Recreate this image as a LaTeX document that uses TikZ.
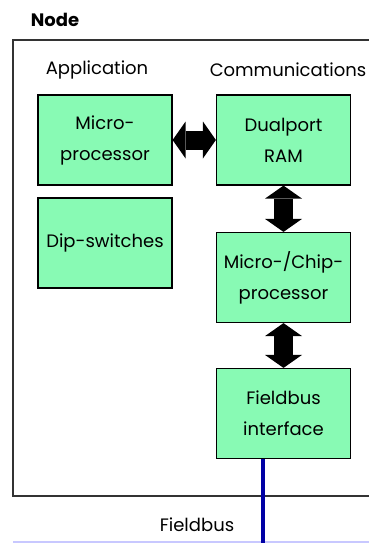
\documentclass[tikz,border=0pt]{standalone}
\usepackage{fontspec}
\setmainfont{Poppins}
\usetikzlibrary{arrows.meta}

\definecolor{boxgreen}{RGB}{136,250,180}
\definecolor{busblue}{RGB}{0,0,165}
\definecolor{lineblue}{RGB}{200,200,255}

\tikzset{
    unit/.style={draw, line width=1.2pt, fill=boxgreen, minimum width=134pt, minimum height=90pt,
        align=center, inner sep=0pt, font=\fontsize{18pt}{31pt}\selectfont},
    fatarrow/.style={line width=19pt,
        {Triangle[length=13pt,width=37pt,line width=0pt]}-{Triangle[length=13pt,width=37pt,line width=0pt]}},
    heading/.style={font=\fontsize{18pt}{20pt}\selectfont}
}

\begin{document}
\begin{tikzpicture}[x=1pt, y=-1pt]
        \useasboundingbox (0,0) rectangle (369,543);
        % Node frame, open on the right
        \node[font=\bfseries\fontsize{18pt}{20pt}\selectfont] (title) at (55,20) {Node};
        \draw[line width=1.2pt, black!80] (369,40) -- (13,40) -- (13,496) -- (369,496);

        \node[heading] (app) at (97,70) {Application};
        \node[heading] (comm) at (288,70) {Communications};

        \node[unit] (mp) at (105,140) {Micro-\\processor};
        \node[unit] (dip) at (105,243) {Dip-switches};
        \node[unit] (ram) at (283.5,140) {Dualport\\RAM};
        \node[unit] (mcp) at (283.5,277.5) {Micro-/Chip-\\processor};
        \node[unit] (fbi) at (283.5,413.5) {Fieldbus\\interface};

        \draw[fatarrow] (mp) -- (ram);
        \draw[fatarrow] (ram) -- (mcp);
        \draw[fatarrow] (mcp) -- (fbi);

        % Fieldbus line
        \coordinate (busend) at (263,543);
        \coordinate (busleft) at (13,542);
        \coordinate (busright) at (369,542);
        \draw[lineblue, line width=2pt] (busleft) -- (busright);
        \draw[busblue, line width=4pt] (fbi.south -| busend) -- (busend);
        \node[heading] (bus) at (197,525) {Fieldbus};
    \end{tikzpicture}
\end{document}
